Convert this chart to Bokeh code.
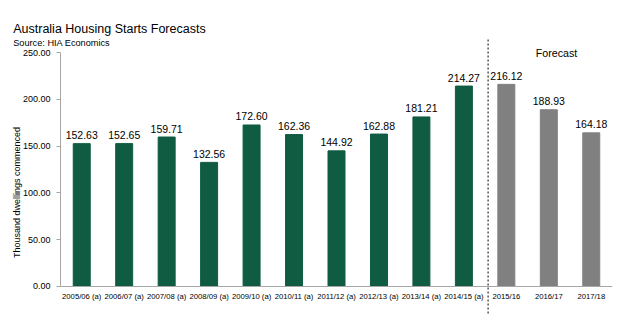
from bokeh.plotting import figure
from bokeh.models import Range1d, FixedTicker, Label, ColumnDataSource, NumeralTickFormatter
from bokeh.embed import file_html
from bokeh.resources import INLINE
from bokeh.core.properties import value
import math

categories = ["2005/06 (a)", "2006/07 (a)", "2007/08 (a)", "2008/09 (a)", "2009/10 (a)",
              "2010/11 (a)", "2011/12 (a)", "2012/13 (a)", "2013/14 (a)", "2014/15 (a)",
              "2015/16", "2016/17", "2017/18"]
starts = [152.63, 152.65, 159.71, 132.56, 172.60, 162.36, 144.92, 162.88, 181.21, 214.27,
          216.12, 188.93, 164.18]
is_forecast = [False] * 10 + [True] * 3
y_ticks = [0, 50, 100, 150, 200, 250]

GREEN = "#0F5C42"
GRAY = "#808080"
FONT = "Liberation Sans"
TXT = "#000000"
AXIS = "#a6a6a6"

PX_X = 42.46   # pixels per category
PX_Y = 0.934   # pixels per unit
Y0 = 285.7     # pixel row of zero


def dx(px):
    return (px - 60) / PX_X - 0.5


def dy(py):
    return (Y0 - py) / PX_Y


xs = list(range(len(categories)))
colors = [GRAY if f else GREEN for f in is_forecast]
labels = ["%.2f" % v for v in starts]
src = ColumnDataSource(dict(x=xs, top=starts, color=colors, label=labels))

p = figure(width=626, height=321, output_backend="svg", toolbar_location=None,
           x_range=Range1d(dx(0), len(categories) - 0.5),
           y_range=Range1d(dy(321), dy(0)),
           min_border_left=0, min_border_right=14, min_border_top=0, min_border_bottom=0)
p.outline_line_color = None
p.grid.visible = False
p.background_fill_color = "white"
p.border_fill_color = "white"

p.vbar(x="x", top="top", width=0.40, bottom=0, color="color", source=src)
p.text(x="x", y="top", text="label", source=src, text_align="center",
       text_baseline="alphabetic", y_offset=-8.5, text_font=value(FONT),
       text_font_size="10.5px", text_color=TXT)

# x axis at zero
xa = p.xaxis[0]
xa.fixed_location = 0
xa.bounds = (-0.5, len(categories) - 0.5)
xa.ticker = FixedTicker(ticks=xs)
xa.major_label_overrides = {i: c for i, c in enumerate(categories)}
xa.major_tick_line_color = None
xa.minor_tick_line_color = None
xa.major_tick_out = 0
xa.major_label_standoff = 6
xa.axis_line_color = AXIS
xa.major_label_text_font = FONT
xa.major_label_text_font_size = "7.7px"
xa.major_label_text_color = TXT

ya = p.yaxis[0]
ya.fixed_location = -0.5
ya.bounds = (0, 250)
ya.ticker = FixedTicker(ticks=y_ticks)
ya.formatter = NumeralTickFormatter(format="0.00")
ya.minor_tick_line_color = None
ya.major_tick_out = 4
ya.major_tick_in = 0
ya.major_tick_line_color = AXIS
ya.axis_line_color = AXIS
ya.major_label_standoff = 6
ya.major_label_text_font = FONT
ya.major_label_text_font_size = "9px"
ya.major_label_text_color = TXT

# divider between actuals and forecast
p.segment(x0=[9.57], y0=[dy(313)], x1=[9.57], y1=[dy(37)], line_color="black",
          line_width=1, line_dash="2 2")

p.add_layout(Label(x=11.18, y=dy(52), text="Forecast", text_align="center",
                   text_baseline="alphabetic", text_font=FONT, text_font_size="10.7px",
                   text_color=TXT))

p.add_layout(Label(x=dx(12.7), y=dy(28.5), text="Australia Housing Starts Forecasts",
                   text_align="left", text_baseline="alphabetic", text_font=FONT,
                   text_font_size="12.5px", text_color=TXT))
p.add_layout(Label(x=dx(12.7), y=dy(42.0), text="Source: HIA Economics",
                   text_align="left", text_baseline="alphabetic", text_font=FONT,
                   text_font_size="9.2px", text_color=TXT))
p.add_layout(Label(x=dx(16.5), y=dy(192), text="Thousand dwellings commenced",
                   angle=math.pi / 2, text_align="center", text_baseline="middle",
                   text_font=FONT, text_font_size="9px", text_color=TXT))

open("out.html", "w").write(file_html(p, INLINE))
